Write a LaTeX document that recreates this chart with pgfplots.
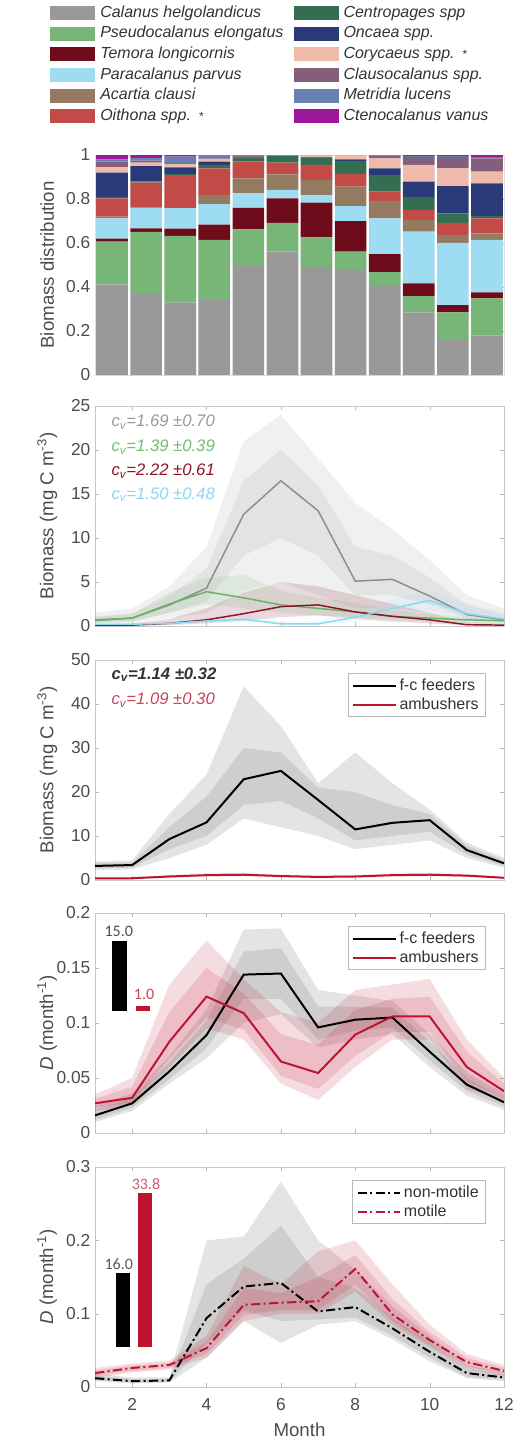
\documentclass[border=0pt]{standalone}
\usepackage{pgfplots}
\pgfplotsset{compat=1.18}
\usepackage{fontspec}
\setmainfont{Liberation Sans}
\newfontfamily\carl{Carlito}

% species colours
\definecolor{cCal}{RGB}{153,153,153}
\definecolor{cPse}{RGB}{120,182,120}
\definecolor{cTem}{RGB}{110,12,28}
\definecolor{cPar}{RGB}{158,220,242}
\definecolor{cAca}{RGB}{148,122,96}
\definecolor{cOit}{RGB}{194,74,71}
\definecolor{cCen}{RGB}{51,110,82}
\definecolor{cOnc}{RGB}{42,58,120}
\definecolor{cCor}{RGB}{240,186,170}
\definecolor{cCla}{RGB}{131,95,124}
\definecolor{cMet}{RGB}{102,128,176}
\definecolor{cCte}{RGB}{160,24,154}
% line colours
\definecolor{lCal}{RGB}{140,140,140}
\definecolor{lPse}{RGB}{100,180,100}
\definecolor{lTem}{RGB}{140,20,40}
\definecolor{lPar}{RGB}{140,215,240}
\definecolor{ured}{RGB}{190,20,50}

\tikzset{
  letter/.style={font=\fontsize{18}{18}\selectfont, text=black!75, anchor=center},
  cv/.style={anchor=west, font=\fontsize{12.5}{12.5}\selectfont\itshape},
  dashdot/.style={dash pattern=on 7pt off 2.5pt on 1.5pt off 2.5pt},
}
\pgfplotsset{
  panel/.style={
    scale only axis, width=306.75pt, height=165pt,
    xmin=1, xmax=12,
    xtick={2,4,...,12}, xticklabels={},
    tick align=inside, major tick length=3pt,
    axis line style={gray!45}, major tick style={gray!55},
    tick label style={font=\fontsize{13}{13}\selectfont, text=black!70},
    label style={font=\fontsize{14}{14}\selectfont, text=black!70},
    ylabel style={at={(axis description cs:-0.117,0.5)}, anchor=center},
    legend style={draw=gray!55, font=\fontsize{12}{12}\selectfont, text=black!80,
      at={(axis description cs:0.955,0.94)}, anchor=north east,
      inner xsep=3pt, inner ysep=2pt, row sep=0pt},
    legend cell align=left,
    legend image code/.code={\draw[#1] (0pt,0pt) -- (32pt,0pt);},
  },
  band/.style={draw=none, fill=#1, fill opacity=0.15, forget plot},
  fc/.style={black, line width=1.5pt},
  am/.style={ured, line width=1.5pt},
}

\begin{document}
\begin{tikzpicture}
\path[use as bounding box] (0pt,0pt) rectangle (386.25pt,-1081.5pt);

% ---------------- a) stacked distribution
\begin{axis}[panel, at={(71.25pt,-281.25pt)}, anchor=south west,
  xmin=0.5, xmax=12.5, xtick=\empty, ymin=0, ymax=1,
  ytick={0,0.2,0.4,0.6,0.8,1}, yticklabels={0,0.2,0.4,0.6,0.8,1},
  axis line style={gray!25},
  ybar stacked, bar width=0.93,
  ylabel={Biomass distribution}]
\addplot[fill=cCal, draw=none] coordinates {(1,0.412)(2,0.368)(3,0.329)(4,0.342)(5,0.495)(6,0.561)(7,0.492)(8,0.477)(9,0.405)(10,0.283)(11,0.159)(12,0.179)};
\addplot[fill=cPse, draw=none] coordinates {(1,0.194)(2,0.283)(3,0.303)(4,0.272)(5,0.167)(6,0.131)(7,0.134)(8,0.084)(9,0.063)(10,0.076)(11,0.126)(12,0.169)};
\addplot[fill=cTem, draw=none] coordinates {(1,0.014)(2,0.016)(3,0.033)(4,0.069)(5,0.098)(6,0.111)(7,0.157)(8,0.139)(9,0.082)(10,0.058)(11,0.033)(12,0.028)};
\addplot[fill=cPar, draw=none] coordinates {(1,0.092)(2,0.091)(3,0.093)(4,0.094)(5,0.066)(6,0.038)(7,0.035)(8,0.068)(9,0.162)(10,0.235)(11,0.283)(12,0.238)};
\addplot[fill=cAca, draw=none] coordinates {(1,0.008)(2,0.004)(3,0.002)(4,0.041)(5,0.068)(6,0.071)(7,0.068)(8,0.088)(9,0.080)(10,0.053)(11,0.035)(12,0.030)};
\addplot[fill=cOit, draw=none] coordinates {(1,0.083)(2,0.112)(3,0.149)(4,0.121)(5,0.076)(6,0.053)(7,0.069)(8,0.058)(9,0.041)(10,0.045)(11,0.056)(12,0.068)};
\addplot[fill=cCen, draw=none] coordinates {(1,0.007)(2,0.006)(3,0.005)(4,0.016)(5,0.018)(6,0.030)(7,0.033)(8,0.059)(9,0.076)(10,0.058)(11,0.043)(12,0.011)};
\addplot[fill=cOnc, draw=none] coordinates {(1,0.110)(2,0.070)(3,0.030)(4,0.015)(5,0.002)(6,0.002)(7,0.002)(8,0.007)(9,0.030)(10,0.071)(11,0.124)(12,0.148)};
\addplot[fill=cCor, draw=none] coordinates {(1,0.024)(2,0.015)(3,0.016)(4,0.010)(5,0.002)(6,0.001)(7,0.008)(8,0.018)(9,0.046)(10,0.076)(11,0.080)(12,0.053)};
\addplot[fill=cCla, draw=none] coordinates {(1,0.026)(2,0.010)(3,0.003)(4,0.005)(5,0.005)(6,0.001)(7,0.001)(8,0.002)(9,0.012)(10,0.037)(11,0.053)(12,0.061)};
\addplot[fill=cMet, draw=none] coordinates {(1,0.010)(2,0.011)(3,0.030)(4,0.012)(5,0.002)(6,0.001)(7,0.001)(8,0.000)(9,0.002)(10,0.003)(11,0.003)(12,0.005)};
\addplot[fill=cCte, draw=none] coordinates {(1,0.020)(2,0.014)(3,0.007)(4,0.003)(5,0.001)(6,0.000)(7,0.000)(8,0.000)(9,0.001)(10,0.005)(11,0.005)(12,0.010)};
\node[letter] at (axis description cs:-0.171,1.0) {a)};
\end{axis}

% legend of species
\begin{axis}[at={(71.25pt,-281.25pt)}, anchor=south west, scale only axis,
  width=306.75pt, height=165pt, hide axis, xmin=0, xmax=1, ymin=0, ymax=1,
  legend columns=2,
  legend style={at={(axis description cs:-0.11,1.682)}, anchor=north west,
    draw=none, fill=none, inner sep=0pt,
    font=\fontsize{12}{12}\selectfont\itshape, text=black!80,
    nodes={inner sep=0pt, text height=9pt, text depth=2.5pt},
    row sep=4pt,
    /tikz/every odd column/.append style={column sep=3.75pt},
    /tikz/every even column/.append style={column sep=7.5pt}},
  legend cell align=left,
  legend image code/.code={\path[#1, draw=none] (0pt,-5.25pt) rectangle (33.75pt,5.25pt);}]
\addlegendimage{fill=cCal}\addlegendentry{Calanus helgolandicus}
\addlegendimage{fill=cCen}\addlegendentry{Centropages spp}
\addlegendimage{fill=cPse}\addlegendentry{Pseudocalanus elongatus}
\addlegendimage{fill=cOnc}\addlegendentry{Oncaea spp.}
\addlegendimage{fill=cTem}\addlegendentry{Temora longicornis}
\addlegendimage{fill=cCor}\addlegendentry{Corycaeus spp.\enspace{\upshape\fontsize{9}{9}\selectfont*}}
\addlegendimage{fill=cPar}\addlegendentry{Paracalanus parvus}
\addlegendimage{fill=cCla}\addlegendentry{Clausocalanus spp.}
\addlegendimage{fill=cAca}\addlegendentry{Acartia clausi}
\addlegendimage{fill=cMet}\addlegendentry{Metridia lucens}
\addlegendimage{fill=cOit}\addlegendentry{Oithona spp.\enspace{\upshape\fontsize{9}{9}\selectfont*}}
\addlegendimage{fill=cCte}\addlegendentry{Ctenocalanus vanus}
\end{axis}

% ---------------- b) biomass per species
\begin{axis}[panel, at={(71.25pt,-469.5pt)}, anchor=south west,
  ymin=0, ymax=25, ytick={0,5,10,15,20,25}, yticklabels={0,5,10,15,20,25},
  ylabel={Biomass (mg C m\textsuperscript{-3})}]
\addplot[band=cCal] coordinates {(1,1.5)(2,2.0)(3,4.5)(4,9)(5,21)(6,24)(7,19)(8,14)(9,11)(10,7.5)(11,3.5)(12,2.0)(12,0.3)(11,0.6)(10,1.5)(9,2)(8,2)(7,3.5)(6,5)(5,4)(4,1.5)(3,0.9)(2,0.4)(1,0.3)} -- cycle;
\addplot[band=cCal] coordinates {(1,1.1)(2,1.4)(3,3.4)(4,6.5)(5,16.5)(6,20)(7,16)(8,9)(9,8)(10,5.5)(11,2.4)(12,1.3)(12,0.5)(11,0.9)(10,2.5)(9,3.5)(8,3.5)(7,8)(6,10)(5,8)(4,2.8)(3,1.5)(2,0.6)(1,0.5)} -- cycle;
\addplot[band=cPse] coordinates {(1,1.0)(2,1.4)(3,3.8)(4,5.5)(5,5.8)(6,4.0)(7,3.2)(8,2.6)(9,1.8)(10,1.4)(11,1.0)(12,0.9)(12,0.3)(11,0.4)(10,0.5)(9,0.7)(8,1.0)(7,1.2)(6,1.5)(5,2.0)(4,2.5)(3,1.5)(2,0.5)(1,0.3)} -- cycle;
\addplot[band=cTem] coordinates {(1,0.2)(2,0.3)(3,0.8)(4,2.0)(5,3.8)(6,5.0)(7,4.5)(8,3.5)(9,2.5)(10,1.5)(11,0.5)(12,0.3)(12,0.05)(11,0.05)(10,0.3)(9,0.5)(8,0.8)(7,1.2)(6,1.0)(5,0.6)(4,0.3)(3,0.1)(2,0.05)(1,0.05)} -- cycle;
\addplot[band=cPar] coordinates {(1,0.4)(2,0.4)(3,0.6)(4,1.0)(5,1.4)(6,0.6)(7,0.6)(8,1.8)(9,3.0)(10,4.0)(11,2.6)(12,1.6)(12,0.4)(11,0.8)(10,1.8)(9,1.2)(8,0.5)(7,0.1)(6,0.1)(5,0.4)(4,0.3)(3,0.15)(2,0.1)(1,0.1)} -- cycle;
\addplot[lCal, line width=1.1pt] coordinates {(1,0.7)(2,0.9)(3,2.4)(4,4.3)(5,12.7)(6,16.5)(7,13.1)(8,5.1)(9,5.3)(10,3.4)(11,1.3)(12,0.7)};
\addplot[lPse, line width=1.1pt] coordinates {(1,0.6)(2,0.9)(3,2.5)(4,3.9)(5,3.2)(6,2.4)(7,2.0)(8,1.6)(9,1.1)(10,0.9)(11,0.7)(12,0.6)};
\addplot[lTem, line width=1.1pt] coordinates {(1,0.1)(2,0.1)(3,0.3)(4,0.7)(5,1.4)(6,2.2)(7,2.4)(8,1.6)(9,1.1)(10,0.7)(11,0.15)(12,0.1)};
\addplot[lPar, line width=1.1pt] coordinates {(1,0.2)(2,0.2)(3,0.3)(4,0.57)(5,0.76)(6,0.25)(7,0.25)(8,1.0)(9,2.0)(10,2.9)(11,1.4)(12,0.8)};
\node[cv, text=black!40] at (axis description cs:0.029,0.927) {c\textsubscript{v}=1.69 ±0.70};
\node[cv, text=lPse!90] at (axis description cs:0.029,0.813) {c\textsubscript{v}=1.39 ±0.39};
\node[cv, text=lTem] at (axis description cs:0.029,0.703) {c\textsubscript{v}=2.22 ±0.61};
\node[cv, text=lPar] at (axis description cs:0.029,0.598) {c\textsubscript{v}=1.50 ±0.48};
\node[letter] at (axis description cs:-0.166,1.018) {b)};
\end{axis}

% ---------------- c) biomass per feeding mode
\begin{axis}[panel, at={(71.25pt,-660pt)}, anchor=south west,
  ymin=0, ymax=50, ytick={0,10,20,30,40,50}, yticklabels={0,10,20,30,40,50},
  ylabel={Biomass (mg C m\textsuperscript{-3})}]
\addplot[band=black!70] coordinates {(1,4.2)(2,4.5)(3,15)(4,24)(5,44)(6,35)(7,22)(8,29)(9,22)(10,16)(11,8.5)(12,5)(12,2.8)(11,5)(10,9)(9,8)(8,7)(7,10)(6,12)(5,14)(4,8)(3,5)(2,2.4)(1,2.3)} -- cycle;
\addplot[band=black!70] coordinates {(1,3.8)(2,4.0)(3,12)(4,19)(5,30)(6,29)(7,21)(8,20)(9,17)(10,15)(11,7.8)(12,4.5)(12,3.2)(11,5.8)(10,11)(9,10)(8,9)(7,14)(6,18)(5,17)(4,10)(3,7)(2,2.8)(1,2.7)} -- cycle;
\addplot[band=ured] coordinates {(1,0.6)(2,0.6)(3,1.1)(4,1.5)(5,1.6)(6,1.2)(7,1.0)(8,1.1)(9,1.5)(10,1.6)(11,1.3)(12,0.7)(12,0.3)(11,0.7)(10,0.9)(9,0.8)(8,0.5)(7,0.4)(6,0.6)(5,0.9)(4,0.8)(3,0.5)(2,0.2)(1,0.2)} -- cycle;
\addplot[fc] coordinates {(1,3.2)(2,3.4)(3,9.3)(4,13.1)(5,22.9)(6,24.8)(7,18.2)(8,11.5)(9,13.0)(10,13.6)(11,6.8)(12,3.8)};
\addlegendentry{f-c feeders}
\addplot[am] coordinates {(1,0.4)(2,0.4)(3,0.8)(4,1.1)(5,1.2)(6,0.9)(7,0.7)(8,0.8)(9,1.1)(10,1.2)(11,1.0)(12,0.5)};
\addlegendentry{ambushers}
\node[cv, text=black!80, font=\fontsize{12.5}{12.5}\selectfont\itshape\bfseries] at (axis description cs:0.029,0.932) {c\textsubscript{v}=1.14 ±0.32};
\node[cv, text=ured!80] at (axis description cs:0.029,0.818) {c\textsubscript{v}=1.09 ±0.30};
\node[letter] at (axis description cs:-0.174,0.973) {c)};
\end{axis}

% ---------------- d) D per feeding mode
\begin{axis}[panel, at={(71.25pt,-849.75pt)}, anchor=south west,
  ymin=0, ymax=0.2, ytick={0,0.05,0.1,0.15,0.2}, yticklabels={0,0.05,0.1,0.15,0.2},
  ylabel={\textit{D} (month\textsuperscript{-1})}]
\addplot[band=black!70] coordinates {(1,0.025)(2,0.036)(3,0.07)(4,0.112)(5,0.185)(6,0.186)(7,0.13)(8,0.125)(9,0.12)(10,0.09)(11,0.055)(12,0.036)(12,0.021)(11,0.034)(10,0.06)(9,0.09)(8,0.085)(7,0.078)(6,0.108)(5,0.1)(4,0.068)(3,0.045)(2,0.02)(1,0.01)} -- cycle;
\addplot[band=black!70] coordinates {(1,0.021)(2,0.032)(3,0.064)(4,0.102)(5,0.165)(6,0.168)(7,0.115)(8,0.115)(9,0.114)(10,0.083)(11,0.05)(12,0.032)(12,0.024)(11,0.038)(10,0.066)(9,0.096)(8,0.093)(7,0.085)(6,0.122)(5,0.122)(4,0.077)(3,0.049)(2,0.023)(1,0.012)} -- cycle;
\addplot[band=ured] coordinates {(1,0.035)(2,0.05)(3,0.135)(4,0.175)(5,0.14)(6,0.11)(7,0.1)(8,0.13)(9,0.135)(10,0.14)(11,0.085)(12,0.05)(12,0.03)(11,0.04)(10,0.085)(9,0.085)(8,0.06)(7,0.03)(6,0.045)(5,0.085)(4,0.095)(3,0.06)(2,0.025)(1,0.02)} -- cycle;
\addplot[band=ured] coordinates {(1,0.031)(2,0.042)(3,0.11)(4,0.15)(5,0.127)(6,0.09)(7,0.08)(8,0.112)(9,0.122)(10,0.124)(11,0.074)(12,0.045)(12,0.032)(11,0.047)(10,0.092)(9,0.092)(8,0.07)(7,0.04)(6,0.052)(5,0.094)(4,0.105)(3,0.068)(2,0.027)(1,0.023)} -- cycle;
\addplot[fc] coordinates {(1,0.016)(2,0.027)(3,0.056)(4,0.089)(5,0.144)(6,0.145)(7,0.096)(8,0.103)(9,0.105)(10,0.074)(11,0.044)(12,0.028)};
\addlegendentry{f-c feeders}
\addplot[am] coordinates {(1,0.027)(2,0.032)(3,0.083)(4,0.124)(5,0.109)(6,0.065)(7,0.0545)(8,0.0895)(9,0.106)(10,0.106)(11,0.060)(12,0.038)};
\addlegendentry{ambushers}
% inset bars (15.0 and 1.0)
\addplot[fill=black, draw=none, forget plot] coordinates {(1.45,0.1108)(1.87,0.1108)(1.87,0.1742)(1.45,0.1742)} -- cycle;
\addplot[fill=ured, draw=none, forget plot] coordinates {(2.11,0.1108)(2.48,0.1108)(2.48,0.1154)(2.11,0.1154)} -- cycle;
\node[font=\carl\fontsize{12}{12}\selectfont, text=black!70] at (axis cs:1.64,0.1836) {15.0};
\node[font=\carl\fontsize{12}{12}\selectfont, text=ured!80] at (axis cs:2.32,0.126) {1.0};
\node[letter] at (axis description cs:-0.166,0.99) {d)};
\end{axis}

% ---------------- e) D per motility
\begin{axis}[panel, at={(71.25pt,-1040.25pt)}, anchor=south west,
  ymin=0, ymax=0.3, ytick={0,0.1,0.2,0.3}, yticklabels={0,0.1,0.2,0.3},
  xticklabels={2,4,6,8,10,12}, xticklabel style={yshift=-5pt},
  xlabel={Month}, xlabel style={at={(axis description cs:0.5,-0.196)}, anchor=center},
  ylabel={\textit{D} (month\textsuperscript{-1})}]
\addplot[band=black!70] coordinates {(1,0.018)(2,0.013)(3,0.013)(4,0.2)(5,0.205)(6,0.28)(7,0.2)(8,0.16)(9,0.11)(10,0.07)(11,0.03)(12,0.02)(12,0.008)(11,0.012)(10,0.035)(9,0.065)(8,0.09)(7,0.085)(6,0.06)(5,0.09)(4,0.04)(3,0.006)(2,0.005)(1,0.008)} -- cycle;
\addplot[band=black!70] coordinates {(1,0.015)(2,0.011)(3,0.011)(4,0.14)(5,0.175)(6,0.22)(7,0.15)(8,0.135)(9,0.095)(10,0.06)(11,0.025)(12,0.017)(12,0.01)(11,0.014)(10,0.04)(9,0.07)(8,0.095)(7,0.092)(6,0.09)(5,0.105)(4,0.06)(3,0.007)(2,0.006)(1,0.009)} -- cycle;
\addplot[band=ured] coordinates {(1,0.026)(2,0.032)(3,0.036)(4,0.07)(5,0.165)(6,0.14)(7,0.185)(8,0.2)(9,0.14)(10,0.085)(11,0.045)(12,0.03)(12,0.015)(11,0.025)(10,0.055)(9,0.085)(8,0.13)(7,0.1)(6,0.1)(5,0.09)(4,0.04)(3,0.024)(2,0.02)(1,0.012)} -- cycle;
\addplot[band=ured] coordinates {(1,0.023)(2,0.029)(3,0.033)(4,0.062)(5,0.135)(6,0.128)(7,0.15)(8,0.18)(9,0.12)(10,0.075)(11,0.04)(12,0.026)(12,0.018)(11,0.028)(10,0.058)(9,0.09)(8,0.14)(7,0.105)(6,0.105)(5,0.098)(4,0.045)(3,0.026)(2,0.022)(1,0.015)} -- cycle;
\addplot[black, line width=1.5pt, dashdot] coordinates {(1,0.012)(2,0.008)(3,0.009)(4,0.094)(5,0.137)(6,0.142)(7,0.103)(8,0.109)(9,0.080)(10,0.048)(11,0.019)(12,0.013)};
\addlegendentry{non-motile}
\addplot[ured, line width=1.5pt, dashdot] coordinates {(1,0.019)(2,0.026)(3,0.030)(4,0.053)(5,0.112)(6,0.115)(7,0.117)(8,0.161)(9,0.099)(10,0.064)(11,0.034)(12,0.022)};
\addlegendentry{motile}
% inset bars (16.0 and 33.8)
\addplot[fill=black, draw=none, forget plot] coordinates {(1.566,0.0544)(1.943,0.0544)(1.943,0.1548)(1.566,0.1548)} -- cycle;
\addplot[fill=ured, draw=none, forget plot] coordinates {(2.167,0.0544)(2.536,0.0544)(2.536,0.264)(2.167,0.264)} -- cycle;
\node[font=\carl\fontsize{12}{12}\selectfont, text=black!65] at (axis cs:1.64,0.167) {16.0};
\node[font=\carl\fontsize{12}{12}\selectfont, text=ured!70] at (axis cs:2.37,0.277) {33.8};
\node[letter] at (axis description cs:-0.166,1.0) {e)};
\end{axis}
\end{tikzpicture}
\end{document}
